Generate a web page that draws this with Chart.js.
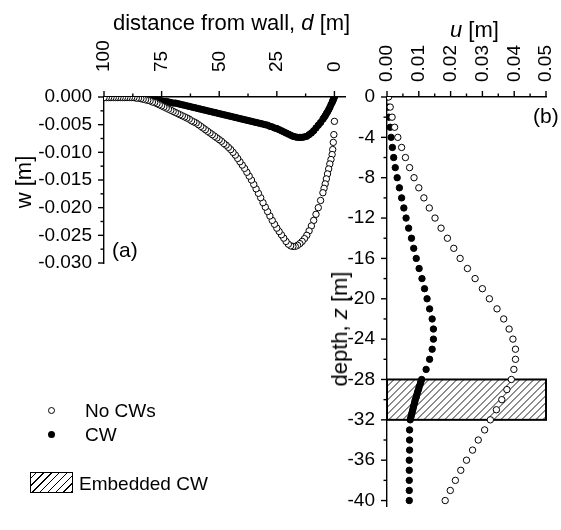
<!DOCTYPE html>
<html><head><meta charset="utf-8">
<script src="https://cdn.jsdelivr.net/npm/chart.js@4.4.1/dist/chart.umd.min.js"></script>
<style>
html,body{margin:0;padding:0;background:#fff;}
body{width:561px;height:530px;position:relative;overflow:hidden;font-family:"Liberation Sans",Arial,sans-serif;color:#000;}
canvas{position:absolute;top:0;}
.t{position:absolute;white-space:nowrap;line-height:1;}
.rot{transform:translate(-50%,-50%) rotate(-90deg);}
</style></head><body>
<canvas id="ca" width="360" height="290" style="left:0"></canvas>
<canvas id="cb" width="221" height="530" style="left:340px"></canvas>
<div class="t" style="left:113px;top:12px;font-size:22px">distance from wall, <i>d</i> [m]</div>
<div class="t" style="left:450px;top:19px;font-size:22px"><i>u</i> [m]</div>
<div class="t rot" style="left:24px;top:182px;font-size:22px">w [m]</div>
<div class="t rot" style="left:340px;top:329px;font-size:22px">depth, <i>z</i> [m]</div>
<div class="t" style="left:112px;top:239px;font-size:21px">(a)</div>
<div class="t" style="left:533px;top:104.5px;font-size:21px">(b)</div>
<div style="position:absolute;left:48px;top:407px;width:5px;height:5px;border:1px solid #000;border-radius:50%;background:#fff"></div>
<div style="position:absolute;left:48px;top:431px;width:7px;height:7px;border-radius:50%;background:#000"></div>
<div class="t" style="left:85px;top:401px;font-size:19px">No CWs</div>
<div class="t" style="left:85px;top:424.5px;font-size:19px">CW</div>
<div style="position:absolute;left:30px;top:472px;width:41px;height:19px;border:1px solid #000;background:repeating-linear-gradient(-45deg,#000 0 1px,#fff 1px 5.5px)"></div>
<div class="t" style="left:79px;top:474px;font-size:19px">Embedded CW</div>
<script>
// ---------- data ----------
const dist = [0,0.25,0.5,0.75,1,1.5,2,2.5,3,3.5,4,4.5,5,
  6,7,8,9,10,11,12,13,14,15,16,17,18,19,20,21,22,23,24,25,26,27,28,29,30,
  31,32,33,34,35,36,37,38,39,40,41,42,43,44,45,46,47,48,49,50,
  51,52,53,54,55,56,57,58,59,60,61,62,63,64,65,66,67,68,69,70,
  71,72,73,74,75,76,77,78,79,80,81,82,83,84,85,86,87,88,89,90,
  91,92,93,94,95,96,97,98,99,100];
const wNoCW = [-0.0044,-0.0068,-0.0082,-0.0095,-0.0104,-0.0113,-0.0121,-0.0130,-0.0139,-0.0148,-0.0157,-0.0165,-0.0173,
  -0.0187,-0.0200,-0.0212,-0.0223,-0.0233,
  -0.0242,-0.0250,-0.0256,-0.0261,-0.0265,-0.0268,-0.0270,-0.0270,-0.0269,-0.0266,
  -0.0261,-0.0255,-0.0249,-0.0243,-0.0237,-0.0230,-0.0223,-0.0215,-0.0207,-0.0199,
  -0.0191,-0.0182,-0.0174,-0.0166,-0.0158,-0.0150,-0.0143,-0.0136,-0.0129,-0.0123,
  -0.0117,-0.0111,-0.0105,-0.0100,-0.0095,-0.0091,-0.0087,-0.0084,-0.0080,-0.0077,
  -0.0074,-0.0071,-0.0068,-0.0065,-0.0062,-0.0059,-0.0056,-0.0053,-0.0050,-0.0047,
  -0.0045,-0.0043,-0.0040,-0.0038,-0.0036,-0.0034,-0.0032,-0.0030,-0.0028,-0.0026,
  -0.0024,-0.0022,-0.0020,-0.0018,-0.0016,-0.0014,-0.0012,-0.0010,-0.0009,-0.0007,
  -0.0006,-0.0005,-0.0004,-0.0003,-0.0002,-0.0002,-0.0001,-0.0001,-0.0001,-0.0001,
  -0.0001,-0.0001,-0.0001,-0.0001,-0.0001,-0.0001,-0.0001,-0.0001,-0.0001,-0.0001];
const wCW = [0.0000,-0.0002,-0.0005,-0.0007,-0.0010,-0.0014,-0.0019,-0.0023,-0.0027,-0.0030,-0.0034,-0.0037,-0.0040,
  -0.0046,-0.0051,-0.0056,-0.0061,-0.0065,
  -0.0068,-0.0071,-0.0072,-0.0073,-0.0073,-0.0073,-0.0072,-0.0071,-0.0069,-0.0067,
  -0.0065,-0.0063,-0.0061,-0.0059,-0.0057,-0.0056,-0.0054,-0.0053,-0.0051,-0.0050,
  -0.0049,-0.0048,-0.0047,-0.0046,-0.0045,-0.0044,-0.0043,-0.0042,-0.0041,-0.0040,
  -0.0039,-0.0038,-0.0037,-0.0036,-0.0035,-0.0034,-0.0033,-0.0032,-0.0031,-0.0030,
  -0.0029,-0.0028,-0.0027,-0.0026,-0.0025,-0.0024,-0.0023,-0.0022,-0.0021,-0.0020,
  -0.0019,-0.0018,-0.0017,-0.0016,-0.0015,-0.0014,-0.0013,-0.0012,-0.0011,-0.0011,
  -0.0010,-0.0009,-0.0008,-0.0008,-0.0007,-0.0006,-0.0005,-0.0005,-0.0004,-0.0003,
  -0.0003,-0.0002,-0.0002,-0.0001,-0.0001,-0.0001,0,0,0,0,
  0,0,0,0,0,0,0,0,0,0];

const depthNoCW = [0,-1,-2,-3,-4,-5,-6,-7,-8,-9,-10,-11,-12,-13,-14,-15,-16,-17,-18,-19,-20,
  -21,-22,-23,-24,-25,-26,-27,-28,-29,-30,-31,-32,-33,-34,-35,-36,-37,-38,-39,-40];
const uNoCW = [0.0005,0.0010,0.0016,0.0024,0.0034,0.0046,0.0058,0.0071,0.0085,0.0100,0.0116,
  0.0133,0.0151,0.0170,0.0190,0.0210,0.0230,0.0253,0.0277,0.0300,0.0322,
  0.0346,0.0367,0.0384,0.0396,0.0404,0.0404,0.0399,0.0391,0.0377,0.0361,
  0.0344,0.0325,0.0307,0.0287,0.0269,0.0250,0.0232,0.0215,0.0199,0.0183];
const depthCW = [0,-1,-2,-3,-4,-5,-6,-7,-8,-9,-10,-11,-12,-13,-14,-15,-16,-17,-18,-19,-20,
  -21,-22,-23,-24,-25,-26,-27,
  -28,-28.25,-28.5,-28.75,-29,-29.25,-29.5,-29.75,-30,-30.25,-30.5,-30.75,-31,-31.25,-31.5,-31.75,-32,
  -33,-34,-35,-36,-37,-38,-39,-40];
const uCW = [0,0.0003,0.0006,0.0010,0.0013,0.0017,0.0021,0.0026,0.0032,0.0039,0.0046,
  0.0053,0.0060,0.0068,0.0077,0.0084,0.0092,0.0101,0.0110,0.0118,0.0126,
  0.0134,0.0142,0.0146,0.0146,0.0142,0.0134,0.0123,
  0.0109,0.0106,0.0104,0.0101,0.0099,0.0096,0.0094,0.0092,0.0089,0.0087,0.0085,0.0083,0.0081,0.0079,0.0077,0.0075,0.0073,
  0.0071,0.0071,0.0071,0.0070,0.0070,0.0070,0.0070,0.0070];

const wallDepth = [-28, -32];      // embedded cut-off wall extent (z)
const wallU = [0, 0.05];           // drawn across the full u range

const dTicks = [100, 75, 50, 25, 0];
const wTicks = [0, -0.005, -0.010, -0.015, -0.020, -0.025, -0.030];
const uTicks = [0, 0.01, 0.02, 0.03, 0.04, 0.05];
const zTicks = [0, -4, -8, -12, -16, -20, -24, -28, -32, -36, -40];

// ---------- helpers ----------
const FONT = '"Liberation Sans", Arial, sans-serif';
Chart.defaults.color = '#000';
Chart.defaults.font.family = FONT;
const mids = a => a.slice(1).map((v, i) => (v + a[i]) / 2);

const tickPlugin = {
  id: 'axisTicks',
  afterDraw(chart, args, o) {
    const {ctx, chartArea: ca} = chart;
    const xs = chart.scales.x, ys = chart.scales.y;
    ctx.save();
    ctx.strokeStyle = '#000';
    ctx.lineWidth = 1.4;
    const seg = (x1, y1, x2, y2) => { ctx.beginPath(); ctx.moveTo(x1, y1); ctx.lineTo(x2, y2); ctx.stroke(); };
    o.x.forEach(v => { const p = xs.getPixelForValue(v); seg(p, ca.top, p, ca.top - 6); });
    mids(o.x).forEach(v => { const p = xs.getPixelForValue(v); seg(p, ca.top, p, ca.top - 3.5); });
    o.y.forEach(v => { const p = ys.getPixelForValue(v); seg(ca.left, p, ca.left - 6, p); });
    mids(o.y).forEach(v => { const p = ys.getPixelForValue(v); seg(ca.left, p, ca.left - 3.5, p); });
    ctx.restore();
  }
};

const wallPlugin = {
  id: 'wall',
  beforeDatasetsDraw(chart) {
    const {ctx} = chart;
    const xs = chart.scales.x, ys = chart.scales.y;
    const x0 = xs.getPixelForValue(wallU[0]), x1 = xs.getPixelForValue(wallU[1]);
    const y0 = ys.getPixelForValue(wallDepth[0]), y1 = ys.getPixelForValue(wallDepth[1]);
    ctx.save();
    ctx.fillStyle = '#fff';
    ctx.fillRect(x0, y0, x1 - x0, y1 - y0);
    ctx.beginPath(); ctx.rect(x0, y0, x1 - x0, y1 - y0); ctx.clip();
    ctx.strokeStyle = '#000'; ctx.lineWidth = 0.9;
    const h = y1 - y0;
    for (let x = x0 - h; x < x1 + h; x += 7) {
      ctx.beginPath(); ctx.moveTo(x, y1); ctx.lineTo(x + h, y0); ctx.stroke();
    }
    ctx.restore();
    ctx.save();
    ctx.strokeStyle = '#000'; ctx.lineWidth = 2;
    ctx.strokeRect(x0, y0, x1 - x0, y1 - y0);
    ctx.restore();
  }
};

function pts(xa, ya) { return xa.map((x, i) => ({x: x, y: ya[i]})); }
const openStyle = {pointRadius: 3.2, pointBorderWidth: 1, pointBackgroundColor: '#fff', pointBorderColor: '#000', showLine: false};
const fillStyle = {pointRadius: 3.2, pointBorderWidth: 1, pointBackgroundColor: '#000', pointBorderColor: '#000', showLine: false};

function axis(pos, extra) {
  return Object.assign({
    type: 'linear', position: pos,
    grid: {display: false, drawTicks: false},
    border: {display: true, color: '#000', width: 1.4},
  }, extra);
}

new Chart(document.getElementById('ca'), {
  type: 'scatter',
  data: {datasets: [
    Object.assign({label: 'No CWs', data: pts(dist, wNoCW)}, openStyle),
    Object.assign({label: 'CW', data: pts(dist, wCW)}, fillStyle)
  ]},
  options: {
    responsive: false, animation: false, devicePixelRatio: 1,
    layout: {padding: {left: 0, top: 0, right: 12, bottom: 27}},
    plugins: {legend: {display: false}, tooltip: {enabled: false}, axisTicks: {x: dTicks, y: wTicks}},
    scales: {
      x: axis('top', {reverse: true, min: -5, max: 100,
        ticks: {font: {size: 19}, minRotation: 90, maxRotation: 90, padding: 25, labelOffset: 23, autoSkip: false, callback: v => String(v)},
        afterBuildTicks: s => { s.ticks = dTicks.map(v => ({value: v})); },
        afterFit: s => { s.height = 97; }}),
      y: axis('left', {min: -0.030, max: 0,
        ticks: {font: {size: 19}, padding: 12, autoSkip: false, callback: v => v.toFixed(3)},
        afterBuildTicks: s => { s.ticks = wTicks.map(v => ({value: v})); },
        afterFit: s => { s.width = 104; }})
    }
  },
  plugins: [tickPlugin]
});

new Chart(document.getElementById('cb'), {
  type: 'scatter',
  data: {datasets: [
    Object.assign({label: 'No CWs', data: pts(uNoCW, depthNoCW)}, openStyle),
    Object.assign({label: 'CW', data: pts(uCW, depthCW)}, fillStyle)
  ]},
  options: {
    responsive: false, animation: false, devicePixelRatio: 1,
    layout: {padding: {left: 0, top: 0, right: 6, bottom: 0}},
    plugins: {legend: {display: false}, tooltip: {enabled: false}, axisTicks: {x: uTicks, y: zTicks}},
    scales: {
      x: axis('top', {min: 0, max: 0.05,
        ticks: {font: {size: 19}, minRotation: 90, maxRotation: 90, padding: 15, labelOffset: 23, autoSkip: false, callback: v => v.toFixed(2)},
        afterBuildTicks: s => { s.ticks = uTicks.map(v => ({value: v})); },
        afterFit: s => { s.height = 97; }}),
      y: axis('left', {min: -40.6, max: 0,
        ticks: {font: {size: 19}, padding: 12, autoSkip: false, callback: v => String(v)},
        afterBuildTicks: s => { s.ticks = zTicks.map(v => ({value: v})); },
        afterFit: s => { s.width = 47; }})
    }
  },
  plugins: [tickPlugin, wallPlugin]
});
</script>
</body></html>
